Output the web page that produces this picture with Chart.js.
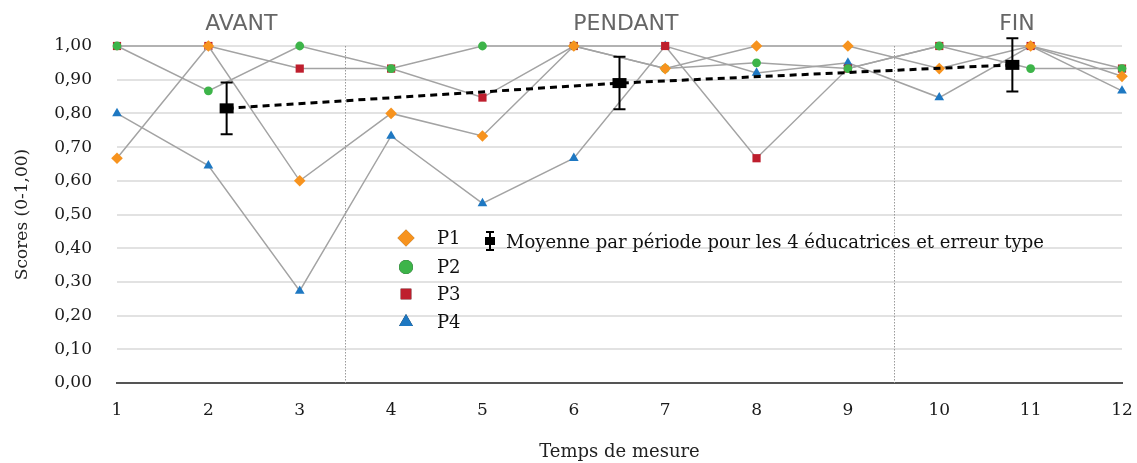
<!DOCTYPE html>
<html>
<head>
<meta charset="utf-8">
<script src="https://cdn.jsdelivr.net/npm/chart.js@4/dist/chart.umd.min.js"></script>
<style>
  html, body { margin: 0; padding: 0; background: #fff; }
  #wrap { width: 1137px; height: 463px; position: relative; }
</style>
</head>
<body>
<div id="wrap"><canvas id="c"></canvas></div>
<script>
// ---- data ----
const times = [1, 2, 3, 4, 5, 6, 7, 8, 9, 10, 11, 12];
const p1 = [0.667, 1.00, 0.60, 0.80, 0.733, 1.00, 0.933, 1.00, 1.00, 0.933, 1.00, 0.91];
const p2 = [1.00, 0.867, 1.00, 0.933, 1.00, 1.00, 0.933, 0.95, 0.933, 1.00, 0.933, 0.933];
const p3 = [1.00, 1.00, 0.933, 0.933, 0.847, 1.00, 1.00, 0.667, 0.933, 1.00, 1.00, 0.933];
const p4 = [0.80, 0.645, 0.273, 0.733, 0.533, 0.667, 1.00, 0.92, 0.95, 0.847, 1.00, 0.867];
const meanX = [2.2, 6.5, 10.8];
const meanY = [0.815, 0.89, 0.944];
const meanSE = [0.077, 0.078, 0.079];
const periods = ['AVANT', 'PENDANT', 'FIN'];
const periodX = [2.36, 6.57, 10.85];
const periodBounds = [3.5, 9.5];
const seriesNames = ['P1', 'P2', 'P3', 'P4'];
const meanLabel = 'Moyenne par période pour les 4 éducatrices et erreur type';

const SERIF = '"DejaVu Serif", "Liberation Serif", serif';
const pts = arr => arr.map((v, i) => ({ x: times[i], y: v }));
const gray = '#a3a3a3';
const cols = ['#F7931E', '#3DB449', '#BE1E2D', '#1E78C2'];
const styles = ['rectRot', 'circle', 'rect', 'triangle'];
const radii = [5.8, 4.4, 5.8, 5.6];

function serie(data, idx) {
  return {
    label: seriesNames[idx], data: pts(data),
    borderColor: gray, borderWidth: 1.5,
    pointStyle: styles[idx], pointRadius: radii[idx],
    pointBackgroundColor: cols[idx], pointBorderColor: cols[idx], pointBorderWidth: 0,
    clip: false, order: idx + 1, tension: 0
  };
}

const extras = {
  id: 'extras',
  beforeDatasetsDraw(chart) {
    const ctx = chart.ctx, xs = chart.scales.x, a = chart.chartArea;
    ctx.save();
    ctx.strokeStyle = '#9a9a9a'; ctx.lineWidth = 1; ctx.setLineDash([1.5, 1.5]);
    periodBounds.forEach(b => {
      const px = Math.round(xs.getPixelForValue(b)) + 0.5;
      ctx.beginPath(); ctx.moveTo(px, a.top); ctx.lineTo(px, a.bottom); ctx.stroke();
    });
    ctx.restore();
  },
  afterDatasetsDraw(chart) {
    const ctx = chart.ctx, xs = chart.scales.x, ys = chart.scales.y;
    ctx.save();
    ctx.strokeStyle = '#000'; ctx.lineWidth = 2;
    meanX.forEach((mx, i) => {
      const px = xs.getPixelForValue(mx);
      const t = ys.getPixelForValue(meanY[i] + meanSE[i]);
      const b = ys.getPixelForValue(meanY[i] - meanSE[i]);
      ctx.beginPath();
      ctx.moveTo(px, t); ctx.lineTo(px, b);
      ctx.moveTo(px - 6, t); ctx.lineTo(px + 6, t);
      ctx.moveTo(px - 6, b); ctx.lineTo(px + 6, b);
      ctx.stroke();
      const py = ys.getPixelForValue(meanY[i]);
      ctx.fillStyle = '#000';
      ctx.fillRect(px - 7, py - 5, 14, 10);
    });
    // period labels
    ctx.fillStyle = '#666';
    ctx.font = '22px "DejaVu Sans", "Liberation Sans", sans-serif';
    ctx.textAlign = 'center'; ctx.textBaseline = 'alphabetic';
    periods.forEach((p, i) => ctx.fillText(p, xs.getPixelForValue(periodX[i]), 30));
    // legend
    const lx = 406, ly = [238, 267, 294, 322];
    ctx.font = '18px ' + SERIF;
    ctx.textAlign = 'left'; ctx.textBaseline = 'middle';
    const lr = [8.5, 7, 7.5, 8];
    seriesNames.forEach((n, i) => {
      Chart.helpers.drawPoint(ctx, { pointStyle: styles[i], radius: lr[i], borderWidth: 0 }, lx, ly[i]);
      ctx.fillStyle = cols[i]; ctx.fill();
      ctx.fillStyle = '#111';
      ctx.fillText(n, 437, ly[i] + 1);
    });
    // mean legend icon
    const ix = 490, iy = 241;
    ctx.strokeStyle = '#000'; ctx.lineWidth = 2;
    ctx.beginPath();
    ctx.moveTo(ix, iy - 9); ctx.lineTo(ix, iy + 9);
    ctx.moveTo(ix - 4, iy - 9); ctx.lineTo(ix + 4, iy - 9);
    ctx.moveTo(ix - 4, iy + 9); ctx.lineTo(ix + 4, iy + 9);
    ctx.stroke();
    ctx.fillStyle = '#000'; ctx.fillRect(ix - 5, iy - 4, 10, 8);
    ctx.fillStyle = '#111';
    ctx.fillText(meanLabel, 506, iy + 2);
    ctx.restore();
  }
};

new Chart(document.getElementById('c'), {
  type: 'line',
  data: {
    datasets: [
      {
        label: 'Moyenne', data: meanX.map((x, i) => ({ x, y: meanY[i] })),
        borderColor: '#000', borderWidth: 3, borderDash: [7, 5],
        pointRadius: 0, clip: false, order: 0
      },
      serie(p1, 0), serie(p2, 1), serie(p3, 2), serie(p4, 3)
    ]
  },
  options: {
    responsive: true, maintainAspectRatio: false, animation: false,
    layout: { padding: { top: 46, right: 15, left: 0, bottom: 0 } },
    plugins: { legend: { display: false }, tooltip: { enabled: false } },
    scales: {
      x: {
        type: 'linear', min: 1, max: 12,
        afterFit: s => { s.height = 80; s.paddingRight = 0; s.paddingLeft = 0; },
        grid: { display: false, drawTicks: false },
        border: { display: true, color: '#555', width: 2 },
        ticks: {
          stepSize: 1, padding: 17, color: '#1a1a1a',
          font: { family: SERIF, size: 17 }
        },
        title: {
          display: true, text: 'Temps de mesure', color: '#222',
          padding: { top: 0, bottom: 0 },
          font: { family: SERIF, size: 18 }
        }
      },
      y: {
        min: 0, max: 1,
        afterFit: s => { s.width = 117; },
        grid: { color: '#e2e2e2', lineWidth: 2, drawTicks: false },
        border: { display: false },
        ticks: {
          stepSize: 0.1, padding: 25, color: '#1a1a1a',
          callback: v => v.toFixed(2).replace('.', ','),
          font: { family: SERIF, size: 17 }
        },
        title: {
          display: true, text: 'Scores (0-1,00)', color: '#222',
          padding: { top: 12, bottom: 0 },
          font: { family: SERIF, size: 17 }
        }
      }
    }
  },
  plugins: [extras]
});
</script>
</body>
</html>
